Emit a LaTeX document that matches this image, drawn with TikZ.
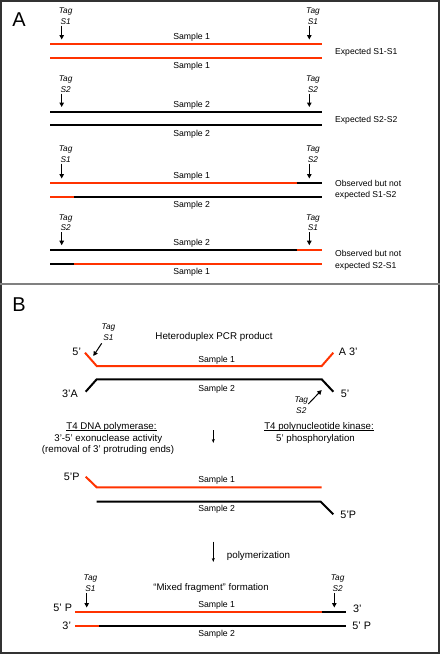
\documentclass[tikz,border=0pt]{standalone}
\usepackage{fontspec}
\setmainfont{Liberation Sans}
\usetikzlibrary{arrows.meta}
\definecolor{dnared}{RGB}{255,51,0}
\definecolor{framegray}{RGB}{50,50,50}
\begin{document}
\begin{tikzpicture}[x=1pt,y=-1pt,
  strand/.style={line width=2pt},
  rstrand/.style={strand,draw=dnared},
  kstrand/.style={strand,draw=black},
  lbl/.style={font=\fontsize{8.7}{10}\selectfont,inner sep=0},
  note/.style={font=\fontsize{8.6}{11.4}\selectfont,inner sep=0,align=left,anchor=west},
  tagl/.style={font=\fontsize{8.3}{10.7}\selectfont\itshape,inner sep=0,align=center},
  tagarrow/.style={-{Triangle[length=4.5pt,width=4.5pt]},line width=1pt},
  steparrow/.style={-{Stealth[length=4pt,width=3pt]},line width=0.6pt},
  endl/.style={font=\fontsize{10.8}{12}\selectfont,inner sep=0},
  body/.style={font=\fontsize{9.7}{11}\selectfont,inner sep=0,anchor=base},
  uline/.style={line width=0.6pt},
  panel/.style={font=\fontsize{20}{22}\selectfont,inner sep=0}]
\useasboundingbox (0,0) rectangle (440,654);
\fill[white] (0,0) rectangle (440,654);
\draw[line width=2pt,framegray] (1,1) rectangle (439,653);
\draw[line width=1.3pt,gray] (0,284) -- (440,284);

% ---------------- Panel A ----------------
\node[panel] (pA) at (19,20) {A};

% row 1
\node[tagl] (t1l) at (65.7,16.3) {Tag\\S1};
\node[tagl] (t1r) at (313,16.3) {Tag\\S1};
\coordinate (a1l) at (61.7,39.5);
\coordinate (a1r) at (309.3,39.5);
\draw[tagarrow] (t1l.south -| a1l) ++(0,1) -- (a1l);
\draw[tagarrow] (t1r.south -| a1r) ++(0,1) -- (a1r);
\coordinate (r1aL) at (50,44.3); \coordinate (r1aR) at (321.7,44.3);
\coordinate (r1bL) at (50,58.3); \coordinate (r1bR) at (321.7,58.3);
\draw[rstrand] (r1aL) -- (r1aR);
\draw[rstrand] (r1bL) -- (r1bR);
\node[lbl] (s1a) at (191.7,37.7) {Sample 1};
\node[lbl] (s1b) at (191.7,66.7) {Sample 1};
\node[note] (n1) at (335,52.7) {Expected S1-S1};

% row 2
\node[tagl] (t2l) at (65.7,84.2) {Tag\\S2};
\node[tagl] (t2r) at (313,84.2) {Tag\\S2};
\coordinate (a2l) at (61.7,107);
\coordinate (a2r) at (309.3,107);
\draw[tagarrow] (t2l.south -| a2l) ++(0,1) -- (a2l);
\draw[tagarrow] (t2r.south -| a2r) ++(0,1) -- (a2r);
\coordinate (r2aL) at (50,111.7); \coordinate (r2aR) at (321.7,111.7);
\coordinate (r2bL) at (50,125.3); \coordinate (r2bR) at (321.7,125.3);
\draw[kstrand] (r2aL) -- (r2aR);
\draw[kstrand] (r2bL) -- (r2bR);
\node[lbl] (s2a) at (191.7,105) {Sample 2};
\node[lbl] (s2b) at (191.7,134) {Sample 2};
\node[note] (n2) at (335,120.3) {Expected S2-S2};

% row 3
\node[tagl] (t3l) at (65.7,154.3) {Tag\\S1};
\node[tagl] (t3r) at (313,154.3) {Tag\\S2};
\coordinate (a3l) at (61.7,178.5);
\coordinate (a3r) at (309.3,178.5);
\draw[tagarrow] (t3l.south -| a3l) ++(0,1) -- (a3l);
\draw[tagarrow] (t3r.south -| a3r) ++(0,1) -- (a3r);
\coordinate (r3aL) at (50,183.3); \coordinate (r3aM) at (296.7,183.3); \coordinate (r3aR) at (321.7,183.3);
\coordinate (r3bL) at (50,196.7); \coordinate (r3bM) at (74,196.7); \coordinate (r3bR) at (321.7,196.7);
\draw[rstrand] (r3aL) -- (r3aM);
\draw[kstrand] (r3aM) -- (r3aR);
\draw[rstrand] (r3bL) -- (r3bM);
\draw[kstrand] (r3bM) -- (r3bR);
\node[lbl] (s3a) at (191.7,176) {Sample 1};
\node[lbl] (s3b) at (191.7,205.3) {Sample 2};
\node[note] (n3) at (335,190) {Observed but not\\expected S1-S2};

% row 4
\node[tagl] (t4l) at (65.7,222.8) {Tag\\S2};
\node[tagl] (t4r) at (313,222.8) {Tag\\S1};
\coordinate (a4l) at (61.7,245.2);
\coordinate (a4r) at (309.3,245.2);
\draw[tagarrow] (t4l.south -| a4l) ++(0,1) -- (a4l);
\draw[tagarrow] (t4r.south -| a4r) ++(0,1) -- (a4r);
\coordinate (r4aL) at (50,250); \coordinate (r4aM) at (296.7,250); \coordinate (r4aR) at (321.7,250);
\coordinate (r4bL) at (50,263.7); \coordinate (r4bM) at (74,263.7); \coordinate (r4bR) at (321.7,263.7);
\draw[kstrand] (r4aL) -- (r4aM);
\draw[rstrand] (r4aM) -- (r4aR);
\draw[kstrand] (r4bL) -- (r4bM);
\draw[rstrand] (r4bM) -- (r4bR);
\node[lbl] (s4a) at (191.7,243.3) {Sample 2};
\node[lbl] (s4b) at (191.7,272) {Sample 1};
\node[note] (n4) at (335,260.3) {Observed but not\\expected S2-S1};

% ---------------- Panel B ----------------
\node[panel] (pB) at (19,305) {B};

\node[font=\fontsize{9.8}{11}\selectfont,inner sep=0] (het) at (214,337.3) {Heteroduplex PCR product};

% heteroduplex
\coordinate (h1a) at (85,352.7); \coordinate (h1b) at (96.7,366);
\coordinate (h1c) at (321.7,366); \coordinate (h1d) at (333.3,352.7);
\draw[rstrand] (h1a) -- (h1b) -- (h1c) -- (h1d);
\coordinate (h2a) at (85.7,391.7); \coordinate (h2b) at (96.7,379.3);
\coordinate (h2c) at (321.7,379.3); \coordinate (h2d) at (333.3,391.7);
\draw[kstrand] (h2a) -- (h2b) -- (h2c) -- (h2d);
\node[endl] (e1) at (76.7,351.7) {5'};
\node[endl] (e2) at (348.3,351.7) {A 3'};
\node[endl] (e3) at (70,394) {3'A};
\node[endl] (e4) at (345,394) {5'};
\node[lbl] (sb1) at (216.7,360) {Sample 1};
\node[lbl] (sb2) at (216.7,389.3) {Sample 2};

\node[tagl] (tb1) at (108.5,332.5) {Tag\\S1};
\coordinate (tb1tip) at (93.3,356);
\draw[tagarrow] (101.7,343.3) -- (tb1tip);
\node[tagl] (tb2) at (301.3,405.3) {Tag\\S2};
\coordinate (tb2tip) at (321.7,390);
\draw[tagarrow] (308.3,404) -- (tb2tip);

% enzymes
\node[body] (enz1a) at (111.5,429) {T4 DNA polymerase:};
\node[body] (enz1b) at (108.3,441) {3'-5' exonuclease activity};
\node[body] (enz1c) at (108,452.5) {(removal of 3' protruding ends)};
\draw[uline] ([yshift=-1.3pt]enz1a.base west) -- ([yshift=-1.3pt]enz1a.base east);
\node[body] (enz2a) at (319,429) {T4 polynucleotide kinase:};
\node[body] (enz2b) at (315.5,441) {5' phosphorylation};
\draw[uline] ([yshift=-1.3pt]enz2a.base west) -- ([yshift=-1.3pt]enz2a.base east);
\coordinate (ar1a) at (213.3,430); \coordinate (ar1b) at (213.3,443);
\draw[steparrow] (ar1a) -- (ar1b);

% after treatment
\coordinate (p1a) at (85.7,476.7); \coordinate (p1b) at (96.7,487.3); \coordinate (p1c) at (321.7,487.3);
\draw[rstrand] (p1a) -- (p1b) -- (p1c);
\coordinate (p2a) at (96.7,501.7); \coordinate (p2b) at (320.7,501.7); \coordinate (p2c) at (333.3,514.3);
\draw[kstrand] (p2a) -- (p2b) -- (p2c);
\node[endl] (e5) at (71.7,476.7) {5'P};
\node[endl] (e6) at (348.3,515) {5'P};
\node[lbl] (sb3) at (216.7,480.7) {Sample 1};
\node[lbl] (sb4) at (216.7,509.3) {Sample 2};

\coordinate (ar2a) at (213.3,541.7); \coordinate (ar2b) at (213.3,562);
\draw[steparrow] (ar2a) -- (ar2b);
\node[font=\fontsize{9.8}{11}\selectfont,inner sep=0,anchor=west] (poly) at (226.7,556) {polymerization};

% mixed fragment
\node[font=\fontsize{9.6}{11}\selectfont,inner sep=0] (mix) at (211,587.7) {``Mixed fragment'' formation};
\node[tagl] (tc1) at (90.5,583.3) {Tag\\S1};
\node[tagl] (tc2) at (337.7,583.3) {Tag\\S2};
\coordinate (c1tip) at (86.7,607.5);
\coordinate (c2tip) at (334.3,607.5);
\draw[tagarrow] (tc1.south -| c1tip) ++(0,1) -- (c1tip);
\draw[tagarrow] (tc2.south -| c2tip) ++(0,1) -- (c2tip);
\coordinate (m1a) at (75,612.3); \coordinate (m1b) at (321.7,612.3); \coordinate (m1c) at (345.7,612.3);
\coordinate (m2a) at (75,625.7); \coordinate (m2b) at (99.3,625.7); \coordinate (m2c) at (345.7,625.7);
\draw[rstrand] (m1a) -- (m1b);
\draw[kstrand] (m1b) -- (m1c);
\draw[rstrand] (m2a) -- (m2b);
\draw[kstrand] (m2b) -- (m2c);
\node[endl] (e7) at (62.7,608.3) {5' P};
\node[endl] (e8) at (357.3,608.3) {3'};
\node[endl] (e9) at (66.7,625.7) {3'};
\node[endl] (e10) at (361.7,625.7) {5' P};
\node[lbl] (sb5) at (216.7,605) {Sample 1};
\node[lbl] (sb6) at (216.7,634) {Sample 2};
\end{tikzpicture}
\end{document}
